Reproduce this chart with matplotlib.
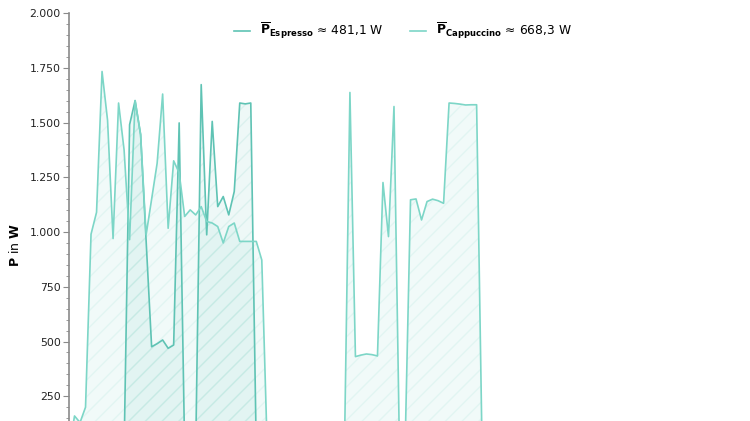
import numpy as np
import matplotlib.pyplot as plt
from matplotlib.ticker import MultipleLocator, FuncFormatter

# Leistungsaufnahme Kaffeevollautomat, 1 Messwert pro Sekunde
t_cappuccino = np.arange(0, 77)
p_cappuccino = [
    0, 160, 130, 200, 990, 1090, 1733, 1510, 970, 1589,
    1375, 965, 1600, 1445, 987, 1150, 1314, 1630, 1017, 1325,
    1270, 1071, 1101, 1078, 1116, 1048, 1041, 1025, 950, 1025,
    1041, 957, 957, 957, 957, 872, 0, 0, 0, 0,
    0, 0, 0, 0, 0, 0, 0, 0, 0, 0,
    0, 1637, 431, 438, 443, 440, 434, 1226, 979, 1573,
    0, 0, 1147, 1151, 1055, 1139, 1150, 1143, 1131, 1589,
    1587, 1584, 1580, 1581, 1581, 0, 0,
]

t_espresso = np.arange(0, 77)
p_espresso = [
    0, 0, 0, 0, 0, 0, 0, 0, 0, 0,
    0, 1490, 1600, 1445, 960, 476, 490, 507, 469, 484,
    1498, 0, 0, 0, 1673, 987, 1505, 1116, 1162, 1078,
    1185, 1589, 1585, 1589, 0, 0, 0, 0, 0, 0,
    0, 0, 0, 0, 0, 0, 0, 0, 0, 0,
    0, 0, 0, 0, 0, 0, 0, 0, 0, 0,
    0, 0, 0, 0, 0, 0, 0, 0, 0, 0,
    0, 0, 0, 0, 0, 0, 0,
]

mean_espresso = "481,1"
mean_cappuccino = "668,3"

c_espresso = "#5fc3b4"
c_cappuccino = "#7dd6c7"

fig = plt.figure(figsize=(7.5, 4.21), dpi=100)
# Achse ragt unten aus dem Bild (Ausschnitt)
ax = fig.add_axes([69 / 750, -30 / 421, 661 / 750, 438 / 421])

for t, p, c, lab in [
    (t_espresso, p_espresso, c_espresso,
     r"$\overline{\mathbf{P}}_{\mathbf{Espresso}}$ ≈ " + mean_espresso + " W"),
    (t_cappuccino, p_cappuccino, c_cappuccino,
     r"$\overline{\mathbf{P}}_{\mathbf{Cappuccino}}$ ≈ " + mean_cappuccino + " W"),
]:
    rgb = np.array(plt.matplotlib.colors.to_rgb(c))
    ax.fill_between(t, p, 0, facecolor=(*rgb, 0.10), edgecolor=(*rgb, 0.13),
                    hatch="//", linewidth=0)
    ax.plot(t, p, color=c, lw=1.2, label=lab)

ax.set_xlim(0, 120)
ax.set_ylim(0, 2000)
ax.yaxis.set_major_locator(MultipleLocator(250))
ax.yaxis.set_minor_locator(MultipleLocator(50))
ax.yaxis.set_major_formatter(
    FuncFormatter(lambda v, pos: f"{int(v):,}".replace(",", ".") if v > 0 else ""))
ax.set_xticks([])

for s in ["top", "right", "bottom"]:
    ax.spines[s].set_visible(False)
ax.spines["left"].set_color("#8a8a8a")
ax.spines["left"].set_linewidth(1.2)
ax.tick_params(axis="y", which="major", length=4, pad=2, color="#8a8a8a",
               labelsize=7.8, labelcolor="#222222")
ax.tick_params(axis="y", which="minor", length=2, color="#8a8a8a")

ax.set_ylabel(r"$\mathbf{P}$ in $\mathbf{W}$", fontsize=9)
ax.yaxis.set_label_coords(-0.071, (421 - 245 + 30) / 438)

fig.legend(loc="center", bbox_to_anchor=(403 / 750, 1 - 31 / 421), ncol=2,
           frameon=False, fontsize=8.8, handlelength=1.3, columnspacing=2.2)

fig.savefig("out.png", dpi=100)
